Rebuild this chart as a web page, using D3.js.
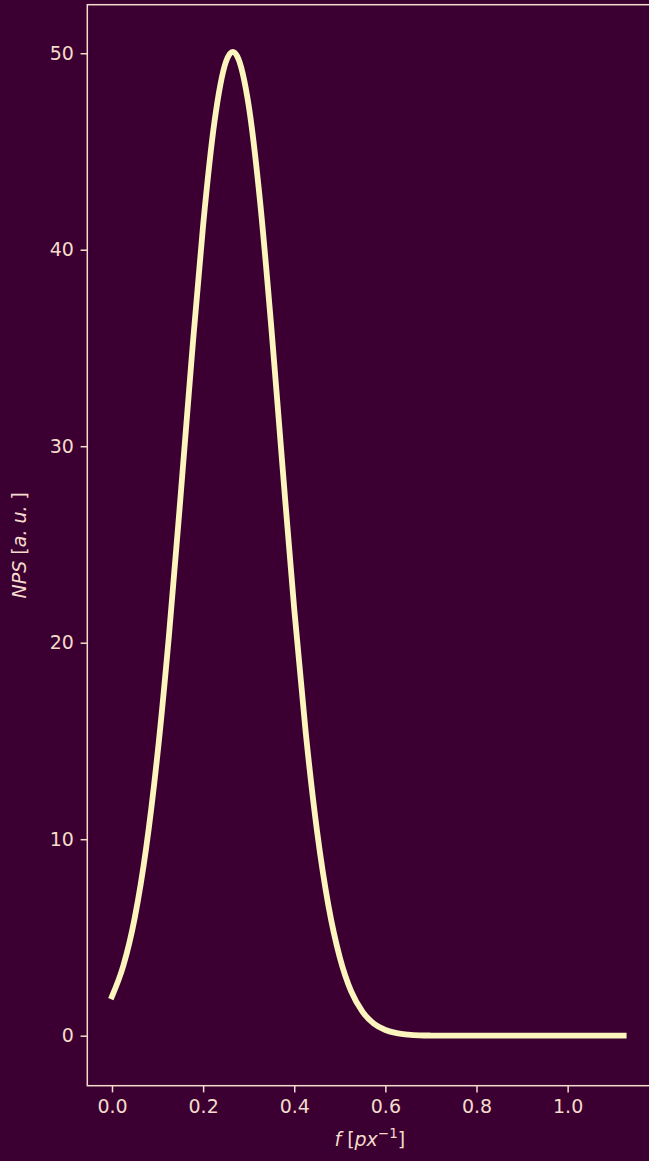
<!DOCTYPE html>
<html>
<head>
<meta charset="utf-8">
<script src="https://cdn.jsdelivr.net/npm/d3@7"></script>
<style>
  html, body { margin: 0; padding: 0; background: #3b0031; }
  svg { display: block; }
  text { font-family: "DejaVu Sans", sans-serif; fill: #f3dccb; }
</style>
</head>
<body>
<svg id="chart" width="649" height="1161"></svg>
<script>
// Noise power spectrum samples: spatial frequency (px^-1) and NPS (a.u.)
const freq = [0, 0.025, 0.05, 0.075, 0.1, 0.125, 0.15, 0.175, 0.2, 0.225, 0.25, 0.265, 0.275,
  0.3, 0.325, 0.35, 0.375, 0.4, 0.425, 0.45, 0.475, 0.5, 0.525, 0.55, 0.575, 0.6, 0.625,
  0.65, 0.675, 0.7, 0.75, 0.8, 0.9, 1.0, 1.1, 1.123];
const nps = [2.0, 3.57, 6.01, 9.56, 14.36, 20.37, 27.3, 34.53, 41.25, 46.53, 49.56, 50.07, 49.84,
  47.34, 42.45, 35.95, 28.74, 21.7, 15.47, 10.41, 6.62, 3.98, 2.25, 1.21, 0.61, 0.29, 0.13,
  0.056, 0.02, 0.008, 0.001, 0, 0, 0, 0, 0];
const xTicks = [0.0, 0.2, 0.4, 0.6, 0.8, 1.0];
const yTicks = [0, 10, 20, 30, 40, 50];

const svg = d3.select("#chart");
const plotLeft = 87.3, plotRight = 652.3, plotTop = 4.7, plotBottom = 1085.7;

const x = d3.scaleLinear().domain([-0.0542, 1.1858]).range([plotLeft, plotRight]);
const y = d3.scaleLinear().domain([-2.545, 52.47]).range([plotBottom, plotTop]);

const ink = "#f3dccb";

// curve
const line = d3.line().x((d, i) => x(freq[i])).y(d => y(d)).curve(d3.curveMonotoneX);
svg.append("path")
  .datum(nps)
  .attr("d", line)
  .attr("fill", "none")
  .attr("stroke", "#fcf5bd")
  .attr("stroke-width", 5.8)
  .attr("stroke-linecap", "square")
  .attr("stroke-linejoin", "round");

// axes
const xAxis = d3.axisBottom(x).tickValues(xTicks).tickFormat(d3.format(".1f"))
  .tickSizeInner(6.7).tickSizeOuter(0).tickPadding(6.7);
const yAxis = d3.axisLeft(y).tickValues(yTicks).tickFormat(d3.format("d"))
  .tickSizeInner(6.7).tickSizeOuter(0).tickPadding(6.7);

const gx = svg.append("g").attr("transform", `translate(0,${plotBottom})`).call(xAxis);
const gy = svg.append("g").attr("transform", `translate(${plotLeft},0)`).call(yAxis);
[gx, gy].forEach(g => {
  g.select(".domain").remove();
  g.selectAll("line").attr("stroke", ink).attr("stroke-width", 1.5);
  g.selectAll("text").attr("font-size", 19).attr("fill", ink)
    .attr("font-family", "DejaVu Sans, sans-serif");
});

// frame (left, top, bottom spines)
svg.append("rect")
  .attr("x", plotLeft).attr("y", plotTop)
  .attr("width", plotRight - plotLeft).attr("height", plotBottom - plotTop)
  .attr("fill", "none").attr("stroke", ink).attr("stroke-width", 1.5);

// axis labels
const xl = svg.append("text")
  .attr("x", (plotLeft + plotRight) / 2).attr("y", 1146)
  .attr("text-anchor", "middle").attr("font-size", 19);
xl.append("tspan").attr("font-style", "italic").text("f");
xl.append("tspan").text(" [");
xl.append("tspan").attr("font-style", "italic").text("px");
xl.append("tspan").attr("font-size", 13.5).attr("dy", -8).text("−1");
xl.append("tspan").attr("dy", 8).text("]");

const yl = svg.append("text")
  .attr("transform", `translate(26,${(plotTop + plotBottom) / 2}) rotate(-90)`)
  .attr("text-anchor", "middle").attr("font-size", 19)
  .attr("xml:space", "preserve").style("white-space", "pre");
yl.append("tspan").attr("font-style", "italic").text("NPS");
yl.append("tspan").text(" [");
yl.append("tspan").attr("font-style", "italic").text("a. u. ");
yl.append("tspan").text("]");
</script>
</body>
</html>
